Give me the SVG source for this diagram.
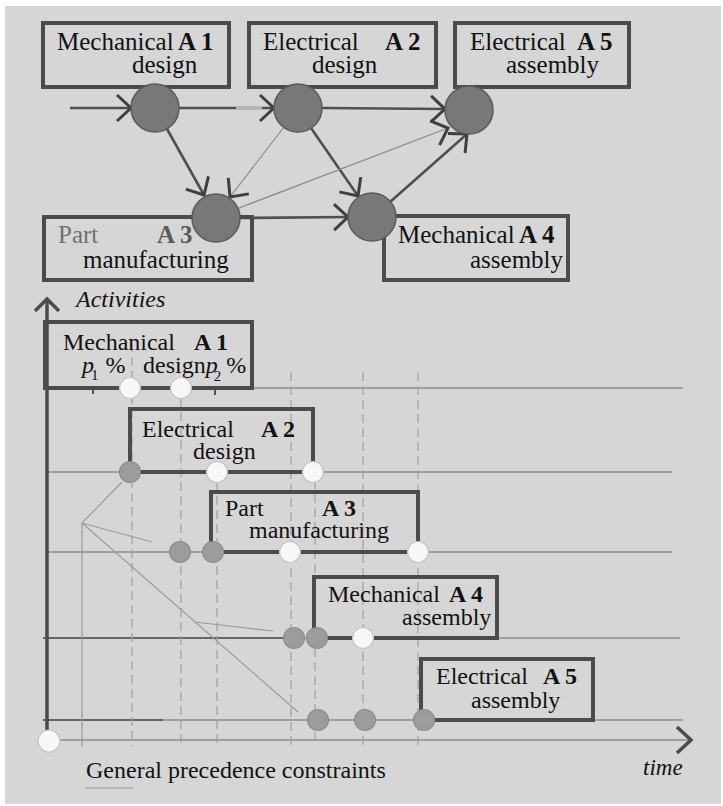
<svg xmlns="http://www.w3.org/2000/svg" width="723" height="806" viewBox="0 0 723 806">
  <style>
    text { font-family: "Liberation Serif", "Times New Roman", serif; fill: #111; }
    .t25 { font-size: 25px; }
    .t24 { font-size: 24px; }
    .b { font-weight: bold; }
    .it { font-style: italic; }
    .sub { font-size: 15px; font-style: normal; }
    .box { fill: none; stroke: #4b4b4b; stroke-width: 4; }
    .node { fill: #787878; stroke: #5a5a5a; stroke-width: 1.5; }
    .edge { fill: none; stroke: #4f4f4f; stroke-width: 2.6; }
    .edge-thin { fill: none; stroke: #8a8a8a; stroke-width: 1.2; }
    .axis { fill: none; stroke: #4b4b4b; stroke-width: 3.5; }
    .tl { fill: none; stroke: #8c8c8c; stroke-width: 1.6; }
    .tl-dark { fill: none; stroke: #666; stroke-width: 2.2; }
    .grid { fill: none; stroke: #a0a0a0; stroke-width: 1.2; stroke-dasharray: 9 5; }
    .guide { fill: none; stroke: #9a9a9a; stroke-width: 1.2; }
    .ev-open { fill: #f7f7f7; stroke: #c4c4c4; stroke-width: 1.2; }
    .ev-done { fill: #9c9c9c; stroke: #8e8e8e; stroke-width: 1.2; }
  </style>
  <defs>
    <marker id="chev" markerUnits="userSpaceOnUse" markerWidth="20" markerHeight="30"
            viewBox="-2 -2 20 30" refX="14" refY="13" orient="auto" overflow="visible">
      <path d="M0,0 L14,13 L0,26" fill="none" stroke="#3f3f3f" stroke-width="3"/>
    </marker>
  </defs>

  <!-- paper -->
  <rect x="0" y="0" width="723" height="806" fill="#ffffff"/>
  <rect x="5" y="6" width="716" height="798" fill="#d6d6d6"/>

  <!-- ===== activity network ===== -->
  <g id="connectors">
    <line class="edge" x1="70" y1="108" x2="131" y2="108" marker-end="url(#chev)"/>
    <line class="edge" x1="179" y1="108" x2="274" y2="108" marker-end="url(#chev)"/>
    <line x1="236" y1="108" x2="262" y2="108" stroke="#b4b4b4" stroke-width="2.6"/>
    <line class="edge" x1="322" y1="108" x2="445" y2="109" marker-end="url(#chev)"/>
    <line class="edge" x1="167" y1="129" x2="204" y2="195" marker-end="url(#chev)"/>
    <line class="edge-thin" x1="284" y1="127" x2="230" y2="197" marker-end="url(#chev)"/>
    <line class="edge" x1="311" y1="128" x2="358" y2="196" marker-end="url(#chev)"/>
    <line class="edge" x1="240" y1="218" x2="348" y2="217" marker-end="url(#chev)"/>
    <line class="edge-thin" x1="239" y1="208" x2="448" y2="128" marker-end="url(#chev)"/>
    <line class="edge" x1="390" y1="202" x2="467" y2="134" marker-end="url(#chev)"/>
  </g>

  <g id="net-a1">
    <rect class="box" x="43" y="23" width="186" height="64"/>
    <text class="t25" x="57" y="50">Mechanical</text>
    <text class="t25 b" x="178" y="50">A 1</text>
    <text class="t25" x="132" y="73">design</text>
    <circle class="node" cx="155" cy="108" r="24"/>
  </g>
  <g id="net-a2">
    <rect class="box" x="249" y="23" width="187" height="64"/>
    <text class="t25" x="263" y="50">Electrical</text>
    <text class="t25 b" x="385" y="50">A 2</text>
    <text class="t25" x="312" y="73">design</text>
    <circle class="node" cx="298" cy="108" r="24"/>
  </g>
  <g id="net-a5">
    <rect class="box" x="455" y="23" width="174" height="64"/>
    <text class="t25" x="470" y="50">Electrical</text>
    <text class="t25 b" x="577" y="50">A 5</text>
    <text class="t25" x="506" y="73">assembly</text>
    <circle class="node" cx="469" cy="110" r="24"/>
  </g>
  <g id="net-a3">
    <rect class="box" x="44" y="217" width="208" height="63"/>
    <text class="t25" x="58" y="243" style="fill:#707070">Part</text>
    <text class="t25 b" x="157" y="243" style="fill:#5a5a5a">A 3</text>
    <text class="t25" x="83" y="268">manufacturing</text>
    <circle class="node" cx="216" cy="218" r="24"/>
  </g>
  <g id="net-a4">
    <rect class="box" x="384" y="216" width="184" height="64"/>
    <text class="t25" x="398" y="243">Mechanical</text>
    <text class="t25 b" x="519" y="243">A 4</text>
    <text class="t25" x="470" y="268">assembly</text>
    <circle class="node" cx="372" cy="217" r="24"/>
  </g>

  <!-- ===== time chart ===== -->
  <g id="chart-grid">
    <!-- timelines -->
    <line class="tl" x1="252" y1="388" x2="683" y2="388"/>
    <line class="tl" x1="47" y1="472" x2="672" y2="472"/>
    <line class="tl" x1="47" y1="552" x2="672" y2="552"/>
    <line class="tl" x1="43" y1="638" x2="680" y2="638"/>
    <line class="tl-dark" x1="43" y1="638" x2="290" y2="638"/>
    <line class="tl" x1="43" y1="720" x2="683" y2="720"/>
    <line class="tl-dark" x1="43" y1="720" x2="163" y2="720"/>
    <line class="tl" x1="47" y1="740" x2="688" y2="740"/>
    <!-- milestone verticals -->
    <line class="guide" x1="82" y1="523" x2="82" y2="746"/>
    <line class="grid" x1="132" y1="395" x2="132" y2="746"/>
    <line class="grid" x1="132" y1="343" x2="132" y2="378" stroke-dasharray="3 3"/>
    <line class="grid" x1="181" y1="398" x2="181" y2="746"/>
    <line class="grid" x1="217" y1="482" x2="217" y2="746"/>
    <line class="grid" x1="291" y1="372" x2="291" y2="746"/>
    <line class="grid" x1="315" y1="480" x2="315" y2="746"/>
    <line class="grid" x1="363" y1="372" x2="363" y2="746"/>
    <line class="grid" x1="418" y1="372" x2="418" y2="746"/>
    <!-- precedence links -->
    <line class="guide" x1="82" y1="523" x2="122" y2="482"/>
    <line class="guide" x1="82" y1="523" x2="152" y2="542"/>
    <line class="guide" x1="82" y1="523" x2="298" y2="712"/>
    <line class="guide" x1="195" y1="622" x2="273" y2="631"/>
    <line class="guide" x1="85" y1="788" x2="133" y2="788"/>
    <!-- ticks under A1 -->
    <line x1="93" y1="388" x2="93" y2="394" stroke="#555" stroke-width="2"/>
    <line x1="215" y1="388" x2="215" y2="395" stroke="#555" stroke-width="2"/>
  </g>

  <g id="axes">
    <line class="axis" x1="47" y1="300" x2="47" y2="733"/>
    <path class="axis" d="M35,311 L47,299 L59,311"/>
    <path class="axis" d="M677,727 L691,740 L677,753"/>
    <text class="t24 it" x="76" y="307">Activities</text>
    <text class="it" x="643" y="775" style="font-size:23px">time</text>
    <text class="t24" x="86" y="778">General precedence constraints</text>
    <circle class="ev-open" cx="49" cy="741" r="11"/>
  </g>

  <g id="bar-a1">
    <rect class="box" x="45" y="322" width="207" height="66"/>
    <text class="t24" x="63" y="350">Mechanical</text>
    <text class="t24 b" x="194" y="350">A 1</text>
    <text class="t24" x="82" y="373"><tspan class="it">p</tspan><tspan class="sub" dx="-3" dy="7">1</tspan><tspan dy="-7" dx="7">%</tspan></text>
    <text class="t24" x="143" y="373">design<tspan class="it">p</tspan><tspan class="sub" dx="-4" dy="8">2</tspan><tspan dy="-8" dx="5">%</tspan></text>
    <circle class="ev-open" cx="130" cy="388" r="10.5"/>
    <circle class="ev-open" cx="181" cy="388" r="10.5"/>
  </g>
  <g id="bar-a2">
    <rect class="box" x="130" y="409" width="183" height="63"/>
    <text class="t24" x="142" y="437">Electrical</text>
    <text class="t24 b" x="261" y="437">A 2</text>
    <text class="t24" x="193" y="459">design</text>
    <circle class="ev-done" cx="130" cy="472" r="10.5"/>
    <circle class="ev-open" cx="217" cy="472" r="10.5"/>
    <circle class="ev-open" cx="313" cy="472" r="10.5"/>
  </g>
  <g id="bar-a3">
    <rect class="box" x="211" y="492" width="207" height="60"/>
    <text class="t24" x="225" y="516">Part</text>
    <text class="t24 b" x="322" y="516">A 3</text>
    <text class="t24" x="249" y="538">manufacturing</text>
    <circle class="ev-done" cx="180" cy="552" r="10.5"/>
    <circle class="ev-done" cx="213" cy="552" r="10.5"/>
    <circle class="ev-open" cx="290" cy="552" r="10.5"/>
    <circle class="ev-open" cx="418" cy="552" r="10.5"/>
  </g>
  <g id="bar-a4">
    <rect class="box" x="314" y="577" width="183" height="61"/>
    <text class="t24" x="328" y="602">Mechanical</text>
    <text class="t24 b" x="449" y="602">A 4</text>
    <text class="t24" x="402" y="625">assembly</text>
    <circle class="ev-done" cx="294" cy="638" r="10.5"/>
    <circle class="ev-done" cx="317" cy="638" r="10.5"/>
    <circle class="ev-open" cx="363" cy="638" r="10.5"/>
  </g>
  <g id="bar-a5">
    <rect class="box" x="421" y="659" width="172" height="61"/>
    <text class="t24" x="436" y="684">Electrical</text>
    <text class="t24 b" x="543" y="684">A 5</text>
    <text class="t24" x="471" y="708">assembly</text>
    <circle class="ev-done" cx="318" cy="720" r="10.5"/>
    <circle class="ev-done" cx="365" cy="720" r="10.5"/>
    <circle class="ev-done" cx="424" cy="720" r="10.5"/>
  </g>
</svg>
